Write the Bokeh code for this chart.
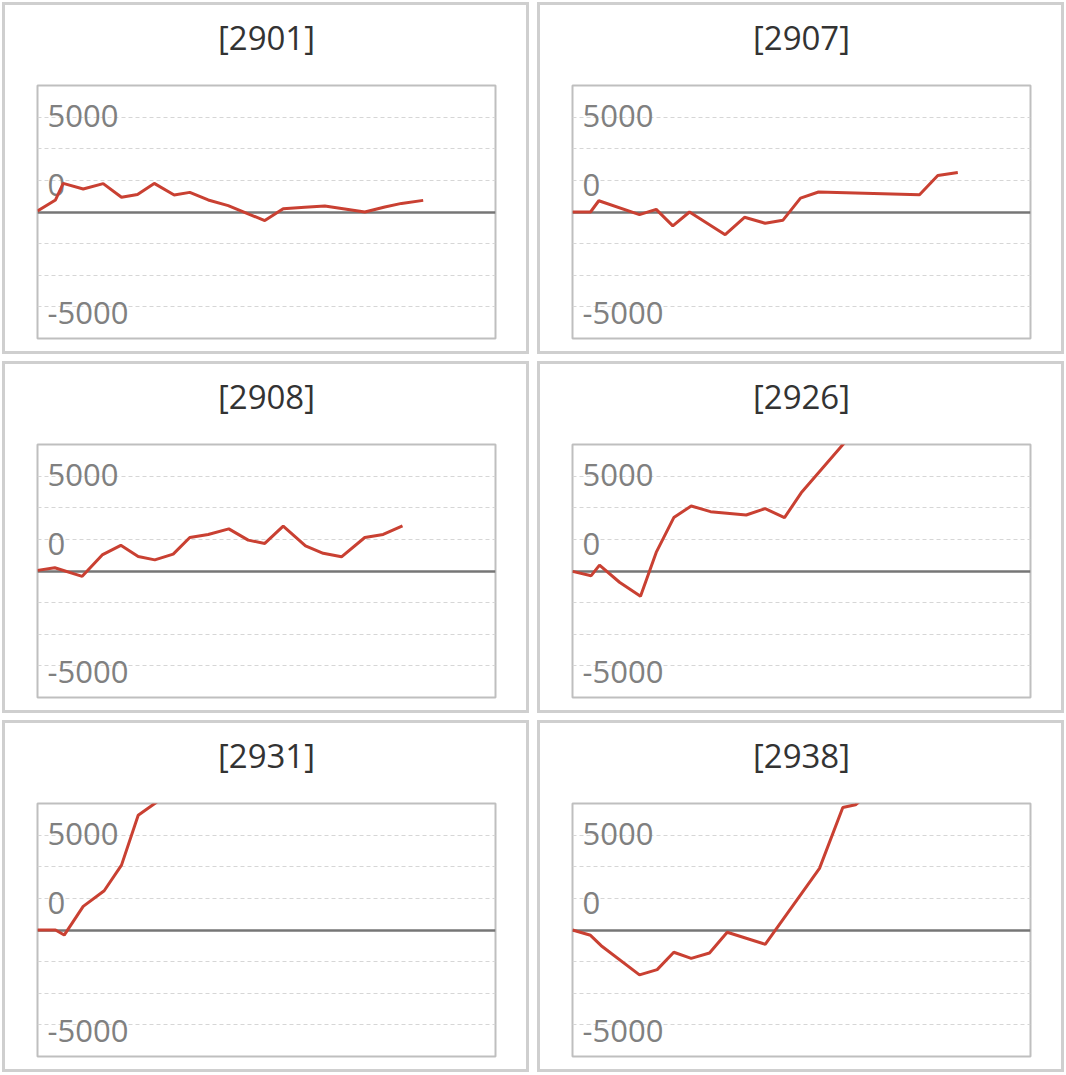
from bokeh.plotting import figure
from bokeh.layouts import column, row
from bokeh.models import Range1d, FixedTicker, Title
from bokeh.core.properties import value
from bokeh.embed import file_html
from bokeh.resources import INLINE

# ---------------- data ----------------
codes = ["[2901]", "[2907]", "[2908]", "[2926]", "[2931]", "[2938]"]

t_2901 = [0, 18, 25.7, 45.7, 65.7, 84, 100, 116.7, 136.7, 152.3, 170.7, 190.7, 227.3, 245.7, 267.3, 287.3, 307.3, 327.3, 347.3, 364, 385.7]
v_2901 = [80, 950, 2260, 1820, 2240, 1160, 1390, 2260, 1340, 1550, 950, 500, -680, 260, 370, 470, 240, 0, 400, 680, 920]

t_2907 = [0, 18, 26.3, 67, 83.7, 100.3, 117, 152.7, 172, 192.7, 210.3, 228, 246, 347, 365.3, 385.3]
v_2907 = [0, 0, 890, -210, 210, -1100, 0, -1790, -420, -890, -660, 1100, 1580, 1370, 2890, 3130]

t_2908 = [0, 17.3, 44.7, 64.7, 83.3, 100.7, 117.3, 135.7, 152.3, 170.7, 191.3, 210.7, 227.3, 245.7, 268, 285.7, 304, 327.3, 345.7, 365]
v_2908 = [50, 260, -420, 1270, 2030, 1140, 880, 1330, 2650, 2890, 3330, 2440, 2180, 3540, 1980, 1400, 1120, 2650, 2890, 3560]

t_2926 = [0, 18.7, 27, 47, 68, 83.7, 101.3, 118.7, 138, 173.7, 192.7, 212, 228.7, 285, 305]
v_2926 = [-30, -370, 470, -890, -1990, 1470, 4220, 5140, 4690, 4430, 4930, 4220, 6180, 11330, 12500]

t_2931 = [0, 18, 26.7, 45.7, 66.7, 84, 100.7, 119, 138]
v_2931 = [0, 0, -400, 1870, 3100, 5130, 9070, 10100, 11500]

t_2938 = [0, 18, 28.7, 67, 84.7, 101.3, 118.7, 137, 154.7, 192.7, 247, 270.3, 283, 300]
v_2938 = [0, -420, -1240, -3550, -3130, -1760, -2240, -1820, -180, -1130, 4870, 9680, 9900, 11000]

series_t = [t_2901, t_2907, t_2908, t_2926, t_2931, t_2938]
series_v = [v_2901, v_2907, v_2908, v_2926, v_2931, v_2938]

tick_labels = ["5000", "0", "-5000"]
tick_label_y = [7600, 2100, -8000]
grid_values = [-7500, -5000, -2500, 2500, 5000, 7500]

FONT = "Open Sans"
W, H = 527, 352


def make_panel(code, t, v):
    p = figure(width=W, height=H, output_backend="svg", toolbar_location=None,
               x_range=Range1d(0, 458), y_range=Range1d(-10000, 10000),
               min_border_left=32, min_border_right=37,
               min_border_top=80, min_border_bottom=19)
    p.title.visible = False
    p.xaxis.visible = False
    p.yaxis.visible = False
    p.xgrid.visible = False
    p.ygrid.ticker = FixedTicker(ticks=grid_values)
    p.ygrid.grid_line_color = "#d6d6d6"
    p.ygrid.grid_line_dash = "4 3"
    p.ygrid.grid_line_width = 1
    p.outline_line_color = "#bfbfbf"
    p.outline_line_width = 2
    p.background_fill_color = "white"
    p.border_fill_color = "white"

    p.hspan(y=[0], line_color="#767676", line_width=2.5)
    p.text(x=[0, 0, 0], y=tick_label_y, text=tick_labels, x_offset=10,
           text_baseline="middle", text_align="left",
           text_font=value(FONT), text_font_size=value("31px"),
           text_color="#808080")
    p.line(t, v, line_color="#c94032", line_width=3)

    # spacer between frame and title (nearest the frame)
    p.add_layout(Title(text=" ", text_font=FONT, text_font_size="10px",
                       standoff=5, text_color="white"), "above")
    p.add_layout(Title(text=code, align="center", text_font=FONT,
                       text_font_size="33px", text_font_style="normal",
                       text_color="#333333", standoff=10), "above")
    p.styles = {"border": "3px solid #cfcfcf"}
    return p


panels = [make_panel(c, t, v) for c, t, v in zip(codes, series_t, series_v)]

layout = column(
    row(panels[0], panels[1], spacing=8),
    row(panels[2], panels[3], spacing=8),
    row(panels[4], panels[5], spacing=8),
    spacing=7,
)
layout.styles = {"margin-left": "2px", "margin-top": "2px"}

open("out.html", "w").write(file_html(layout, INLINE))
